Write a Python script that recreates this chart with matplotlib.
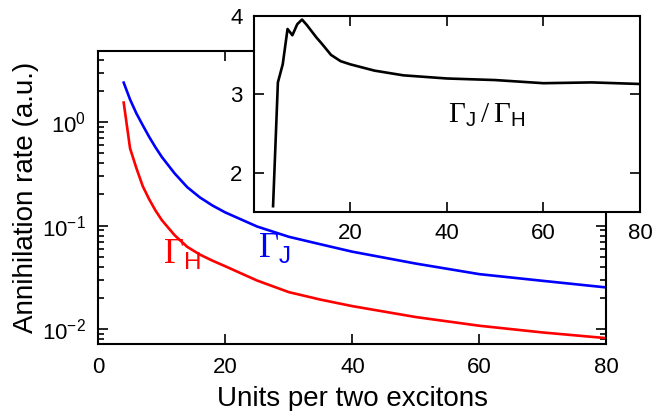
import numpy as np
import matplotlib
matplotlib.use('Agg')
import matplotlib.pyplot as plt

plt.rcParams['font.family'] = ['Liberation Sans', 'DejaVu Sans']
plt.rcParams['mathtext.fontset'] = 'custom'
plt.rcParams['mathtext.rm'] = 'Liberation Serif'
plt.rcParams['mathtext.sf'] = 'Liberation Sans'

# main panel: annihilation rates vs units per two excitons
units = [4, 5, 6, 7, 8, 9, 10, 12, 14, 16, 18, 20, 25, 30, 35, 40, 50, 60, 70, 80]
gamma_h = [1.54, 0.557, 0.358, 0.24, 0.18, 0.14, 0.113, 0.081, 0.0624, 0.0525,
           0.0458, 0.0405, 0.0295, 0.0228, 0.0193, 0.0167, 0.0131, 0.0108, 0.0093, 0.0082]
gamma_j = [2.4, 1.65, 1.21, 0.93, 0.72, 0.57, 0.46, 0.32, 0.235, 0.187,
           0.156, 0.134, 0.098, 0.078, 0.066, 0.056, 0.043, 0.034, 0.0293, 0.0253]

# inset: ratio
ratio_x = [4, 5, 6, 7, 8, 9, 10, 11, 12, 13, 14, 16, 18, 20, 25, 31, 40, 50, 60, 70, 80]
ratio_y = [1.575, 3.15, 3.38, 3.83, 3.75, 3.89, 3.95, 3.88, 3.80, 3.72, 3.65, 3.50,
           3.42, 3.38, 3.30, 3.24, 3.20, 3.18, 3.14, 3.15, 3.13]

fig = plt.figure(figsize=(6.54, 4.11), dpi=100)
ax = fig.add_axes([0.1503, 0.163, 0.777, 0.713])
ax.plot(units, gamma_h, color='red', lw=1.9)
ax.plot(units, gamma_j, color='blue', lw=1.9)
ax.set_yscale('log')
ax.set_xlim(0, 80)
ax.set_ylim(0.0072, 4.85)
ax.set_xticks([0, 20, 40, 60, 80])
ax.set_yticks([1e-2, 1e-1, 1e0])
ax.tick_params(which='both', direction='in', top=True, right=True, labelsize=16, width=1.2)
ax.tick_params(which='major', length=7, pad=9)
ax.tick_params(which='minor', length=4)
for s in ax.spines.values():
    s.set_linewidth(1.5)
ax.set_xlabel('Units per two excitons', fontsize=20, labelpad=6)
ax.set_ylabel('Annihilation rate (a.u.)', fontsize=20, labelpad=2)
ax.text(10.2, 0.0434, r'$\Gamma_{\mathsf{H}}$', color='red', fontsize=25)
ax.text(25.1, 0.0497, r'$\Gamma_{\mathsf{J}}$', color='blue', fontsize=25)

ins = fig.add_axes([0.388, 0.484, 0.5906, 0.478])
ins.plot(ratio_x, ratio_y, color='black', lw=1.9)
ins.set_xlim(0, 80)
ins.set_ylim(1.5, 4)
ins.set_xticks([20, 40, 60, 80])
ins.set_yticks([2, 3, 4])
ins.tick_params(direction='in', top=True, right=True, labelsize=16, length=7, width=1.2, pad=8)
for s in ins.spines.values():
    s.set_linewidth(1.5)
ins.text(40.2, 2.64, r'$\Gamma_{\mathsf{J}}\,/\,\Gamma_{\mathsf{H}}$', color='black', fontsize=21)

fig.savefig('out.png', dpi=100)
